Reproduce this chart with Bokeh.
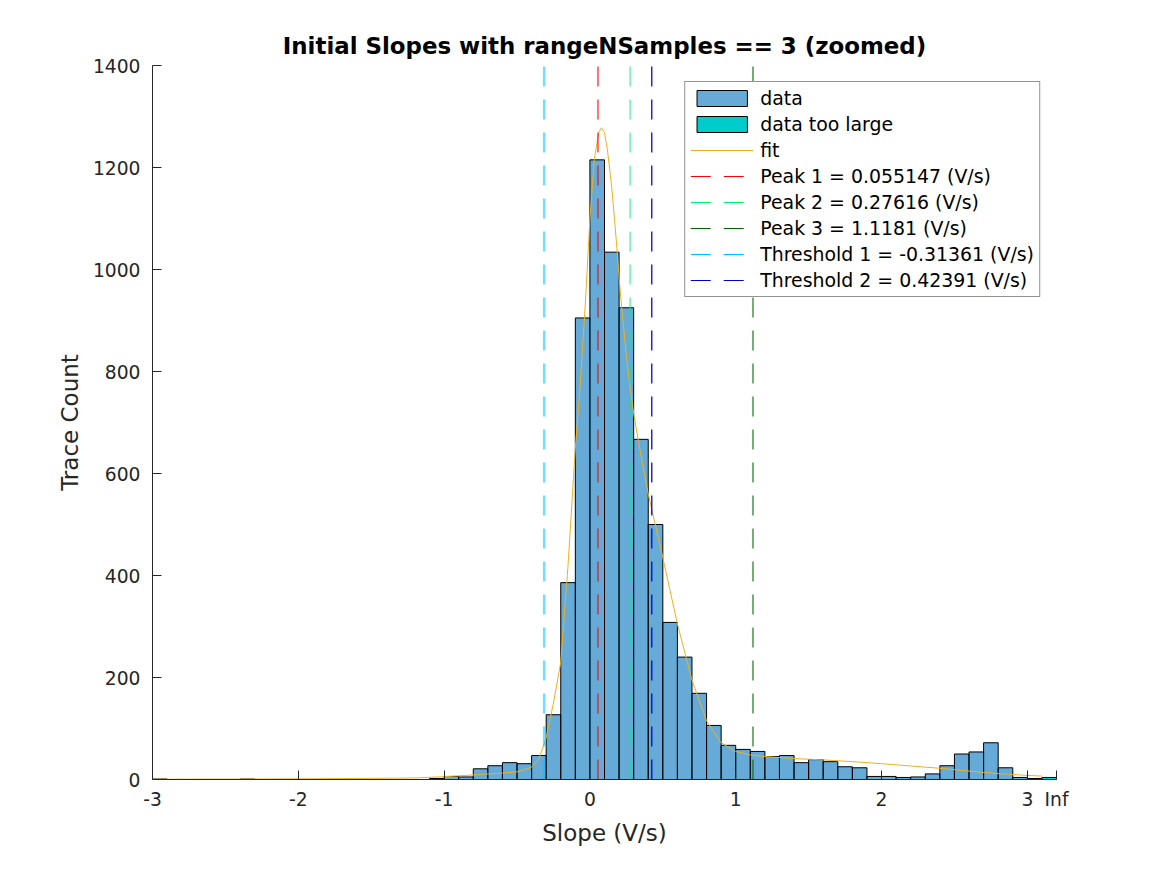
import numpy as np
from bokeh.plotting import figure
from bokeh.models import FixedTicker, Legend, LegendItem, CustomJSTickFormatter
from bokeh.embed import file_html
from bokeh.resources import INLINE

# ---------------- data ----------------
bin_width = 0.1
bin_left = [round(-3.0 + i * bin_width, 1) for i in range(61)]
counts = [1, 0, 0, 0, 0, 0, 1, 0, 0, 0, 0, 0, 0, 0, 0, 0, 0, 0, 0,
          2, 6, 5, 21, 27, 33, 31, 47, 127, 386, 905,
          1215, 1034, 925, 667, 500, 308, 240, 169, 106, 67,
          59, 55, 45, 47, 33, 39, 35, 25, 23, 6,
          6, 4, 5, 11, 27, 50, 54, 72, 23, 4, 2]
inf_bin_left = 3.1
inf_count = 4

fit_x = [-3.0, -2.5, -2.0, -1.5, -1.2, -1.0, -0.8, -0.6, -0.5, -0.4, -0.35, -0.3,
         -0.25, -0.2, -0.15, -0.1, -0.07, -0.03, 0.0, 0.03, 0.06, 0.08, 0.1, 0.12,
         0.15, 0.18, 0.21, 0.25, 0.28, 0.3, 0.35, 0.4, 0.5, 0.6, 0.7, 0.8, 0.9,
         1.0, 1.1, 1.2, 1.4, 1.6, 1.8, 2.0, 2.2, 2.4, 2.6, 2.8, 3.0, 3.1]
fit_y = [0.5, 0.8, 1.3, 2.2, 3.0, 5.5, 9, 12.5, 15, 24, 40, 82,
         150, 230, 420, 650, 760, 940, 1100, 1215, 1268, 1278, 1268, 1235,
         1160, 1060, 950, 830, 760, 718, 635, 560, 435, 305, 195, 115, 72,
         55, 48, 45, 41, 38.5, 35, 31, 26.5, 22, 16.5, 11.5, 8, 6.7]

line_labels = ["Peak 1", "Peak 2", "Peak 3", "Threshold 1", "Threshold 2"]
line_values = [0.055147, 0.27616, 1.1181, -0.31361, 0.42391]
line_value_texts = ["0.055147", "0.27616", "1.1181", "-0.31361", "0.42391"]
line_colors = ["#FF0000", "#00F07A", "#006400", "#00BFFF", "#0000CD"]
line_alphas = [0.55, 0.5, 0.55, 0.55, 0.85]
line_widths = [2, 2, 2, 2.5, 1.5]

x_ticks = [-3, -2, -1, 0, 1, 2, 3]
x_inf_tick = 3.2
y_ticks = [0, 200, 400, 600, 800, 1000, 1200, 1400]
x_lim = (-3, 3.2)
y_lim = (0, 1400)

FONT = "DejaVu Sans"
DASH = "20 13"

# ---------------- figure ----------------
p = figure(frame_width=904, frame_height=714,
           x_range=x_lim, y_range=y_lim,
           min_border_left=152, min_border_right=103,
           min_border_top=65, min_border_bottom=88,
           output_backend="svg", toolbar_location=None,
           background_fill_color="white", border_fill_color="white")
p.outline_line_color = None
p.xgrid.visible = False
p.ygrid.visible = False

p.title.text = "Initial Slopes with rangeNSamples == 3 (zoomed)"
p.title.text_font = FONT
p.title.text_font_size = "22.9px"
p.title.text_font_style = "bold"
p.title.text_color = "#000000"
p.title.align = "center"
p.title.standoff = 14

for ax in (p.xaxis[0], p.yaxis[0]):
    ax.major_tick_in = 9
    ax.major_tick_out = 0
    ax.minor_tick_line_color = None
    ax.axis_line_color = "#262626"
    ax.major_tick_line_color = "#262626"
    ax.major_label_text_color = "#262626"
    ax.major_label_text_font = FONT
    ax.major_label_text_font_size = "18.7px"
    ax.axis_label_text_font = FONT
    ax.axis_label_text_font_size = "23px"
    ax.axis_label_text_font_style = "normal"
    ax.axis_label_text_color = "#262626"

p.xaxis.ticker = FixedTicker(ticks=x_ticks + [x_inf_tick])
p.xaxis.formatter = CustomJSTickFormatter(code="return tick > 3.1 ? 'Inf' : tick.toFixed(0);")
p.yaxis.ticker = FixedTicker(ticks=y_ticks)
p.xaxis.axis_label = "Slope (V/s)"
p.yaxis.axis_label = "Trace Count"
p.xaxis.major_label_standoff = 9
p.yaxis.major_label_standoff = 12
p.xaxis.axis_label_standoff = 7
p.yaxis.axis_label_standoff = 7

# histogram
centers = [b + bin_width / 2 for b in bin_left]
r_data = p.vbar(x=centers, width=bin_width, top=counts, bottom=0,
                fill_color="#0072BD", fill_alpha=0.6,
                line_color="black", line_width=1)
r_inf = p.vbar(x=[inf_bin_left + bin_width / 2], width=bin_width, top=[inf_count], bottom=0,
               fill_color="#00CCCC", fill_alpha=1.0,
               line_color="black", line_width=1)

# fit
r_fit = p.line(fit_x, fit_y, line_color="#EDB120", line_width=1)

# vertical lines + legend proxies (thin, opaque, invisible in plot)
proxies = []
for lab, v, c, a, w in zip(line_labels, line_values, line_colors, line_alphas, line_widths):
    p.line(x=[v, v], y=[y_lim[0], y_lim[1]], line_color=c, line_alpha=a,
           line_width=w, line_dash=DASH)
    proxies.append(p.line(x=[v], y=[float("nan")], line_color=c, line_width=1, line_dash=DASH))

items = [LegendItem(label="data", renderers=[r_data]),
         LegendItem(label="data too large", renderers=[r_inf]),
         LegendItem(label="fit", renderers=[r_fit])]
for lab, t, r in zip(line_labels, line_value_texts, proxies):
    items.append(LegendItem(label=f"{lab} = {t} (V/s)", renderers=[r]))

legend = Legend(items=items, location="top_right", margin=16, padding=5, spacing=4,
                glyph_width=63, glyph_height=20, label_standoff=7, label_height=20,
                label_text_font=FONT, label_text_font_size="18.9px",
                label_text_color="#000000",
                border_line_color="#262626", border_line_width=1,
                background_fill_color="white", background_fill_alpha=1.0)
p.add_layout(legend)

open("out.html", "w").write(file_html(p, INLINE))
